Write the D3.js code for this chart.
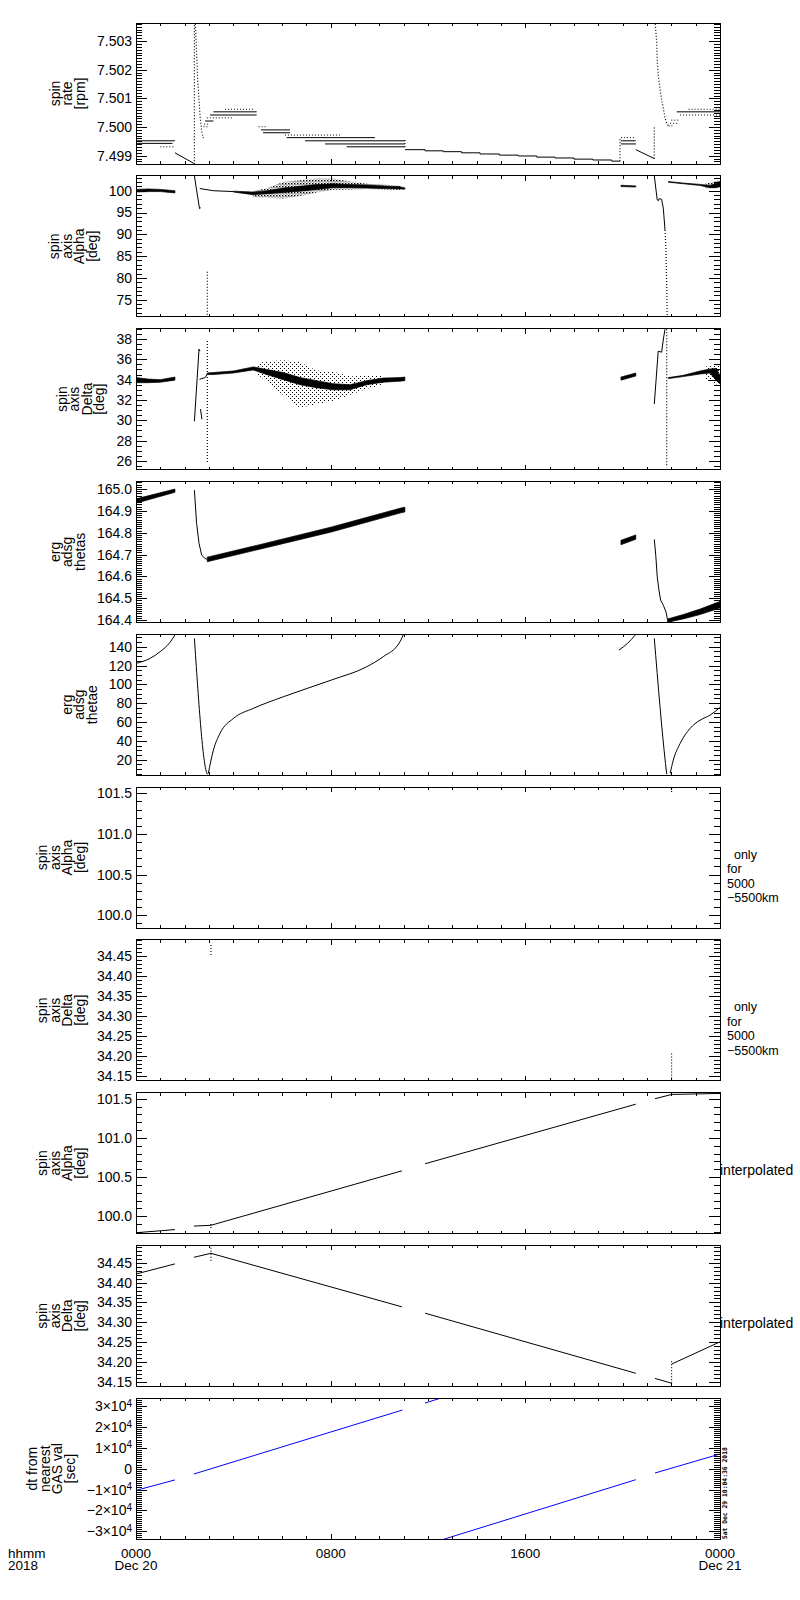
<!DOCTYPE html>
<html lang="en">
<head>
<meta charset="UTF-8">
<title>ERG spin axis summary 2018-12-20</title>
<script src="https://d3js.org/d3.v7.min.js"></script>
<style>
  body { margin: 0; background: #fff; }
  svg { display: block; }
  svg text { font-family: "Liberation Sans", Arial, sans-serif; font-size: 14px; fill: #000; }
  .axis line { stroke: #000; shape-rendering: crispEdges; }
  .frame { fill: none; stroke: #000; stroke-width: 1; shape-rendering: crispEdges; }
  .stamp { font-family: "DejaVu Sans Mono", monospace; font-size: 6.5px; font-weight: bold; }
  .xlab { font-size: 13.5px; }
  .side { font-size: 12.5px; }
</style>
</head>
<body>
<svg id="chart" width="800" height="1600"></svg>
<script>
// time axis, hours from 2018-12-20 00:00
const hourTicks = [0, 8, 16, 24];
const hourLabels = ["0000", "0800", "1600", "0000"];
const dayLabels = ["Dec 20", "", "", "Dec 21"];

// panel 1 : spin rate [rpm]
const rateDomain = [7.49871, 7.50363];
const rateTicks = [7.499, 7.500, 7.501, 7.502, 7.503];
const rateLevels = [ // [h0, h1, rpm]
  [0, 1.6, 7.49952], [0, 1.5, 7.49943],
  [2.84, 3.18, 7.50021], [3.04, 4.96, 7.50042], [3.18, 4.96, 7.50053],
  [5.14, 6.33, 7.4999], [5.22, 6.33, 7.4998], [6.19, 9.82, 7.49963],
  [6.95, 11.05, 7.49952], [7.77, 11.05, 7.49941], [8.66, 11.05, 7.49931],
  [19.93, 20.54, 7.49952], [19.93, 20.54, 7.49941], [22.22, 24, 7.50053]
];
const rateLevelsDotted = [
  [1.0, 1.6, 7.49931], [2.77, 2.95, 7.50001], [2.80, 3.0, 7.5001], [2.91, 3.99, 7.50032],
  [3.66, 4.89, 7.50062], [5.04, 5.37, 7.50001], [6.12, 8.38, 7.49972], [19.93, 20.54, 7.49963],
  [21.88, 22.05, 7.50004], [21.95, 22.3, 7.50013], [22.0, 22.3, 7.50024], [22.36, 24, 7.50042],
  [22.71, 24, 7.50062]
];
const rateLines = [
  [[1.6, 7.4991], [2.38, 7.49873]],
  [[20.54, 7.49921], [21.30, 7.4989]]
];
const rateStairs = [
  [11.05, 7.49921], [11.88, 7.49917], [12.63, 7.49914], [13.38, 7.4991], [14.14, 7.49906],
  [14.93, 7.49902], [15.71, 7.49899], [16.47, 7.49895], [17.22, 7.49892], [18.0, 7.49888],
  [18.77, 7.49885], [19.55, 7.49881], [19.89, 7.49881]
];
const rateDotted = [
  [[2.40, 7.4987], [2.40, 7.5036]],
  [[2.44, 7.5036], [2.49, 7.50258], [2.53, 7.50171], [2.59, 7.50095], [2.63, 7.50042], [2.70, 7.49984], [2.77, 7.49961]],
  [[11.05, 7.4993], [11.05, 7.4996]],
  [[19.89, 7.49881], [19.89, 7.49963]],
  [[21.30, 7.4989], [21.30, 7.5000]],
  [[21.34, 7.5036], [21.40, 7.50293], [21.42, 7.50235], [21.46, 7.50182], [21.53, 7.50136],
   [21.60, 7.50095], [21.67, 7.50066], [21.74, 7.50031], [21.81, 7.50013], [21.88, 7.50004]]
];

// panel 2 : spin axis alpha [deg]
const alphaDomain = [71.08, 103.42];
const alphaTicks = [75, 80, 85, 90, 95, 100];
const alphaBands = [ // [h, low, high]
  [[0, 99.7, 100.3], [0.5, 99.8, 100.4], [1.0, 99.8, 100.3], [1.6, 99.5, 100.0]],
  [[4.0, 99.7, 99.9], [4.8, 99.1, 99.7], [5.4, 99.3, 100.0], [6.05, 99.6, 100.6], [6.74, 99.9, 101.0],
   [7.42, 100.3, 101.4], [8.1, 100.7, 101.6], [8.79, 100.7, 101.4], [9.48, 100.6, 101.3],
   [10.85, 100.4, 100.9], [11.05, 100.35, 100.65]],
  [[19.93, 100.95, 101.25], [20.54, 100.85, 101.1]],
  [[21.88, 101.95, 102.1], [22.49, 101.6, 101.75], [23.18, 101.2, 101.45], [23.59, 100.7, 101.2],
   [23.85, 100.7, 101.7], [24, 101.1, 102.1]]
];
const alphaScatter = [
  [[4.8, 98.6, 99.9], [5.4, 98.4, 100.6], [6.05, 98.2, 102.0], [6.74, 98.8, 102.4], [7.42, 99.6, 102.8],
   [8.1, 100.2, 102.8], [8.79, 100.3, 102.1], [9.48, 100.4, 101.6], [10.85, 100.2, 101.2]],
  [[23.4, 100.5, 101.6], [24, 100.6, 102.4]]
];
const alphaLines = [
  [[2.40, 103.4], [2.61, 95.9], [2.66, 96.1]],
  [[2.62, 100.5], [3.18, 100.0], [4.0, 99.8]],
  [[21.30, 103.4], [21.42, 97.9], [21.47, 97.7], [21.5, 98.2], [21.6, 98.0], [21.67, 96.0], [21.74, 91.0]]
];
const alphaDotted = [
  [[2.93, 81.4], [2.93, 71.1]],
  [[21.74, 91.0], [21.78, 86.4], [21.81, 78], [21.83, 71.1]]
];

// panel 3 : spin axis delta [deg]
const deltaDomain = [25.15, 39.02];
const deltaTicks = [26, 28, 30, 32, 34, 36, 38];
const deltaBands = [
  [[0, 33.7, 34.2], [0.5, 33.7, 34.05], [1.0, 33.75, 34.0], [1.6, 33.95, 34.25]],
  [[2.93, 34.5, 34.65], [3.18, 34.5, 34.7], [4.0, 34.65, 34.85], [4.82, 34.95, 35.25], [5.37, 34.5, 35.0],
   [6.05, 34.0, 34.7], [6.74, 33.5, 34.2], [7.42, 33.2, 33.9], [8.1, 33.0, 33.6], [8.79, 33.0, 33.5],
   [9.48, 33.5, 33.9], [10.16, 33.75, 34.15], [10.85, 33.85, 34.2], [11.05, 33.9, 34.25]],
  [[19.93, 33.95, 34.25], [20.54, 34.35, 34.65]],
  [[21.88, 34.1, 34.2], [22.49, 34.3, 34.42], [23.18, 34.55, 34.85], [23.59, 34.65, 35.05],
   [23.85, 33.9, 35.1], [24, 33.6, 34.4]]
];
const deltaScatter = [
  [[5.0, 34.5, 35.6], [5.37, 33.8, 35.8], [6.05, 32.5, 35.9], [6.74, 31.2, 35.7], [7.42, 31.6, 34.9],
   [8.1, 31.9, 34.8], [8.79, 32.5, 34.3], [9.48, 33.1, 34.4], [10.16, 33.5, 34.4]],
  [[23.4, 34.0, 35.3], [24, 33.4, 35.4]]
];
const deltaLines = [
  [[2.40, 29.9], [2.59, 37.0], [2.63, 36.8]],
  [[2.65, 31.1], [2.71, 30.1]],
  [[2.61, 34.03], [2.84, 34.2], [2.93, 34.55]],
  [[21.30, 31.6], [21.46, 36.8], [21.6, 36.7], [21.68, 38.1], [21.74, 38.95]]
];
const deltaDotted = [
  [[2.93, 37.8], [2.93, 25.8]],
  [[21.81, 38.95], [21.81, 25.35]]
];

// panel 4 : erg adsg thetas
const thetasDomain = [164.389, 165.035];
const thetasTicks = [164.4, 164.5, 164.6, 164.7, 164.8, 164.9, 165.0];
const thetasBands = [
  [[0, 164.935, 164.955], [1.6, 164.985, 165.0]],
  [[2.93, 164.667, 164.688], [5.0, 164.722, 164.743], [8.03, 164.803, 164.826], [10.85, 164.89, 164.912], [11.05, 164.895, 164.917]],
  [[19.93, 164.745, 164.765], [20.54, 164.77, 164.79]],
  [[21.85, 164.39, 164.405], [22.49, 164.405, 164.425], [23.18, 164.425, 164.45], [24, 164.455, 164.485]]
];
const thetasLines = [
  [[2.40, 164.995], [2.49, 164.843], [2.59, 164.751], [2.70, 164.697], [2.84, 164.682], [2.93, 164.678]],
  [[21.30, 164.769], [21.36, 164.697], [21.42, 164.598], [21.49, 164.537], [21.56, 164.491],
   [21.67, 164.468], [21.78, 164.437], [21.85, 164.399]]
];

// panel 5 : erg adsg thetae
const thetaeDomain = [3.54, 153.27];
const thetaeTicks = [20, 40, 60, 80, 100, 120, 140];
const thetaeLines = [
  [[0, 122.3], [0.58, 127.6], [0.99, 134.7], [1.4, 144.7], [1.6, 152.5]],
  [[2.40, 148.9], [2.90, 6.5], [2.93, 4.5]],
  [[2.97, 5.3], [3.18, 30.1], [3.45, 47.9], [4.0, 63.8], [4.82, 74.5], [6.05, 86.8], [8.03, 104.6],
   [9.48, 118.7], [10.16, 129.4], [10.85, 145.3], [11.0, 153.5]],
  [[19.85, 136.5], [20.2, 143.5], [20.52, 152.5]],
  [[21.30, 148.9], [21.76, 16], [21.81, 4.6]],
  [[21.95, 5.3], [22.08, 19.5], [22.36, 37.2], [22.77, 53.2], [23.18, 62], [23.59, 67.3], [24, 75.5]]
];

// panel 6/7 : only for 5000-5500 km
const alphaOnlyDomain = [99.844, 101.577];
const alphaOnlyTicks = [100.0, 100.5, 101.0, 101.5];
const alphaOnlyDotted = [[[22.01, 101.516], [22.01, 101.565]]];
const deltaOnlyDomain = [34.139, 34.491];
const deltaOnlyTicks = [34.15, 34.20, 34.25, 34.30, 34.35, 34.40, 34.45];
const deltaOnlyDotted = [
  [[3.08, 34.453], [3.08, 34.4825]],
  [[22.01, 34.145], [22.01, 34.2075]]
];

// panel 8/9 : interpolated
const alphaInterpDomain = [99.779, 101.578];
const alphaInterpLines = [
  [[0, 99.79], [1.6, 99.83]],
  [[2.38, 99.875], [3.08, 99.885], [10.93, 100.58]],
  [[11.88, 100.67], [20.54, 101.43]],
  [[21.33, 101.5], [22.03, 101.555], [24, 101.567]]
];
const alphaInterpDotted = [[[3.08, 99.85], [3.08, 99.9]], [[22.01, 101.54], [22.01, 101.575]]];
const deltaInterpDomain = [34.139, 34.4935];
const deltaInterpLines = [
  [[0, 34.4216], [1.6, 34.447]],
  [[2.38, 34.4636], [3.08, 34.4736], [10.93, 34.339]],
  [[11.88, 34.323], [20.54, 34.172]],
  [[21.33, 34.159], [22.01, 34.147]],
  [[22.01, 34.195], [24, 34.251]]
];
const deltaInterpDotted = [[[3.08, 34.455], [3.08, 34.49]], [[22.01, 34.147], [22.01, 34.205]]];

// panel 10 : dt from nearest GAS value [sec]
const dtDomain = [-33850, 33850];
const dtTicks = [-30000, -20000, -10000, 0, 10000, 20000, 30000];
const dtLines = [
  [[0, -10400], [1.6, -5400]],
  [[2.38, -2540], [10.95, 28180]],
  [[11.88, 31540], [12.53, 33900]],
  [[12.64, -33900], [20.54, -5280]],
  [[21.33, -2060], [24, 7060]]
];

const onlyText = ["\u00a0\u00a0only", "for", "5000", "\u22125500km"];
const interpText = ["interpolated"];
const stampText = "Sat Dec 29 10:04:36 2018";

const panels = [
  { title: ["spin", "rate", "[rpm]"], domain: rateDomain, ticks: rateTicks, minor: 0.0001, fmt: d3.format(".3f"),
    levels: rateLevels, dottedLevels: rateLevelsDotted, lines: rateLines, stairs: [rateStairs], dotted: rateDotted },
  { title: ["spin", "axis", "Alpha", "[deg]"], domain: alphaDomain, ticks: alphaTicks, minor: 1, fmt: d3.format("d"),
    bands: alphaBands, scatter: alphaScatter, speck: "speckDense", lines: alphaLines, dotted: alphaDotted },
  { title: ["spin", "axis", "Delta", "[deg]"], domain: deltaDomain, ticks: deltaTicks, minor: 0.5, fmt: d3.format("d"),
    bands: deltaBands, scatter: deltaScatter, speck: "speck", lines: deltaLines, dotted: deltaDotted },
  { title: ["erg", "adsg", "thetas"], domain: thetasDomain, ticks: thetasTicks, minor: 0.01, fmt: d3.format(".1f"),
    bands: thetasBands, lines: thetasLines },
  { title: ["erg", "adsg", "thetae"], domain: thetaeDomain, ticks: thetaeTicks, minor: 5, fmt: d3.format("d"),
    lines: thetaeLines, smooth: true },
  { title: ["spin", "axis", "Alpha", "[deg]"], domain: alphaOnlyDomain, ticks: alphaOnlyTicks, minor: 0.1, fmt: d3.format(".1f"),
    dotted: alphaOnlyDotted, side: onlyText },
  { title: ["spin", "axis", "Delta", "[deg]"], domain: deltaOnlyDomain, ticks: deltaOnlyTicks, minor: 0.01, fmt: d3.format(".2f"),
    dotted: deltaOnlyDotted, side: onlyText },
  { title: ["spin", "axis", "Alpha", "[deg]"], domain: alphaInterpDomain, ticks: alphaOnlyTicks, minor: 0.1, fmt: d3.format(".1f"),
    lines: alphaInterpLines, dotted: alphaInterpDotted, side: interpText },
  { title: ["spin", "axis", "Delta", "[deg]"], domain: deltaInterpDomain, ticks: deltaOnlyTicks, minor: 0.01, fmt: d3.format(".2f"),
    lines: deltaInterpLines, dotted: deltaInterpDotted, side: interpText },
  { title: ["dt from", "nearest", "GAS val", "[sec]"], domain: dtDomain, ticks: dtTicks, minor: 1000, fmt: null,
    lines: dtLines, color: "#0000ff" }
];

const plotLeft = 136, plotRight = 720;
const panelTop0 = 23, panelPitch = 152.8, panelH = 141;

const svg = d3.select("#chart");
const defs = svg.append("defs");
// sparse and dense dot fills for the scattered point clouds
const speck = defs.append("pattern").attr("id", "speck")
  .attr("width", 4).attr("height", 4).attr("patternUnits", "userSpaceOnUse");
speck.append("rect").attr("x", 0).attr("y", 0).attr("width", 1).attr("height", 1).attr("fill", "#000");
speck.append("rect").attr("x", 2).attr("y", 2).attr("width", 1).attr("height", 1).attr("fill", "#000");
const dense = defs.append("pattern").attr("id", "speckDense")
  .attr("width", 3).attr("height", 3).attr("patternUnits", "userSpaceOnUse");
dense.append("rect").attr("x", 0).attr("y", 0).attr("width", 1.4).attr("height", 1.4).attr("fill", "#000");
dense.append("rect").attr("x", 1.5).attr("y", 1.5).attr("width", 1).attr("height", 1).attr("fill", "#000");

const x = d3.scaleLinear().domain([0, 24]).range([plotLeft, plotRight]);
const hourMinor = d3.range(0, 25);

function stepValues(d, step) {
  return d3.range(Math.ceil(d[0] / step - 1e-6), Math.floor(d[1] / step + 1e-6) + 1)
    .map(k => +(k * step).toFixed(8));
}

// one <text> with a tspan per line
function multiline(parent, x0, y0, lines, gap, cls, anchor) {
  const t = parent.append("text").attr("class", cls || null).attr("text-anchor", anchor || "start");
  lines.forEach((s, k) => t.append("tspan").attr("x", x0).attr("y", y0 + k * gap).text(s));
  return t;
}

panels.forEach((p, i) => {
  const top = panelTop0 + i * panelPitch, bottom = top + panelH;
  const cy = (top + bottom) / 2;
  const y = d3.scaleLinear().domain(p.domain).range([bottom, top]);
  const color = p.color || "#000";
  const g = svg.append("g");

  defs.append("clipPath").attr("id", "clip" + i)
    .append("rect").attr("x", plotLeft).attr("y", top)
    .attr("width", plotRight - plotLeft).attr("height", panelH);
  const plot = g.append("g").attr("clip-path", `url(#clip${i})`);

  const line = d3.line().x(d => x(d[0])).y(d => y(d[1]));
  const curve = d3.line().x(d => x(d[0])).y(d => y(d[1]))
    .curve(p.smooth ? d3.curveMonotoneX : d3.curveLinear);
  const stairs = d3.line().x(d => x(d[0])).y(d => y(d[1])).curve(d3.curveStepAfter);
  const area = d3.area().x(d => x(d[0])).y0(d => y(d[1])).y1(d => y(d[2]));

  (p.scatter || []).forEach(s => plot.append("path").attr("d", area(s)).attr("fill", `url(#${p.speck})`));
  (p.bands || []).forEach(b => plot.append("path").attr("d", area(b))
    .attr("fill", color).attr("stroke", color).attr("stroke-width", 0.7));
  (p.lines || []).forEach(l => plot.append("path").attr("d", curve(l))
    .attr("fill", "none").attr("stroke", color).attr("stroke-width", 1));
  (p.stairs || []).forEach(l => plot.append("path").attr("d", stairs(l))
    .attr("fill", "none").attr("stroke", color).attr("stroke-width", 1));
  (p.dotted || []).forEach(l => plot.append("path").attr("d", line(l))
    .attr("fill", "none").attr("stroke", color).attr("stroke-width", 1.2).attr("stroke-dasharray", "1,2"));
  (p.levels || []).forEach(l => plot.append("line")
    .attr("x1", x(l[0])).attr("x2", x(l[1])).attr("y1", y(l[2])).attr("y2", y(l[2]))
    .attr("stroke", color).attr("stroke-width", 1));
  (p.dottedLevels || []).forEach(l => plot.append("line")
    .attr("x1", x(l[0])).attr("x2", x(l[1])).attr("y1", y(l[2])).attr("y2", y(l[2]))
    .attr("stroke", color).attr("stroke-width", 1).attr("stroke-dasharray", "1,2"));

  const clean = a => a.select(".domain").remove();
  const minorY = stepValues(p.domain, p.minor);

  // y axes, ticks pointing inward on both sides
  g.append("g").attr("class", "axis").attr("transform", `translate(${plotLeft},0)`)
    .call(d3.axisLeft(y).tickValues(minorY).tickSize(-6).tickFormat("")).call(clean);
  const lab = g.append("g").attr("class", "axis").attr("transform", `translate(${plotLeft},0)`)
    .call(d3.axisLeft(y).tickValues(p.ticks).tickSize(-11).tickPadding(4)
      .tickFormat(p.fmt || (() => ""))).call(clean);
  g.append("g").attr("class", "axis").attr("transform", `translate(${plotRight},0)`)
    .call(d3.axisRight(y).tickValues(minorY).tickSize(-6).tickFormat("")).call(clean);
  g.append("g").attr("class", "axis").attr("transform", `translate(${plotRight},0)`)
    .call(d3.axisRight(y).tickValues(p.ticks).tickSize(-11).tickFormat("")).call(clean);

  if (!p.fmt) {
    // 3x10^4 style labels
    lab.selectAll(".tick text").each(function (v) {
      const t = d3.select(this).text("");
      if (v === 0) { t.text("0"); return; }
      t.append("tspan").text(`${v < 0 ? "\u2212" : ""}${Math.abs(v) / 1e4}\u00d710`);
      t.append("tspan").attr("dy", "-0.45em").style("font-size", "10px").text("4");
    });
  }

  // time axes top and bottom
  g.append("g").attr("class", "axis").attr("transform", `translate(0,${bottom})`)
    .call(d3.axisBottom(x).tickValues(hourMinor).tickSize(-3).tickFormat("")).call(clean);
  g.append("g").attr("class", "axis").attr("transform", `translate(0,${bottom})`)
    .call(d3.axisBottom(x).tickValues(hourTicks).tickSize(-5).tickFormat("")).call(clean);
  g.append("g").attr("class", "axis").attr("transform", `translate(0,${top})`)
    .call(d3.axisTop(x).tickValues(hourMinor).tickSize(-3).tickFormat("")).call(clean);
  g.append("g").attr("class", "axis").attr("transform", `translate(0,${top})`)
    .call(d3.axisTop(x).tickValues(hourTicks).tickSize(-5).tickFormat("")).call(clean);

  g.append("rect").attr("class", "frame")
    .attr("x", plotLeft).attr("y", top).attr("width", plotRight - plotLeft).attr("height", panelH);

  // rotated multi-line title, placed left of the widest tick label
  const labLeft = plotLeft + lab.node().getBBox().x;
  const n = p.title.length;
  p.title.forEach((s, k) => {
    const bx = labLeft - 12 - (n - 1 - k) * 12.5;
    g.append("text").attr("transform", `translate(${bx},${cy}) rotate(-90)`)
      .attr("text-anchor", "middle").text(s);
  });

  if (p.side) {
    const many = p.side.length > 1;
    multiline(g, many ? 727 : 720, cy + (many ? 1 : 12), p.side, 14.5, many ? "side" : null);
  }

  if (i === panels.length - 1) {
    hourTicks.forEach((h, k) => {
      const lines = dayLabels[k] ? [hourLabels[k], dayLabels[k]] : [hourLabels[k]];
      multiline(svg, x(h), bottom + 19, lines, 12, "xlab", "middle");
    });
    multiline(svg, 8, bottom + 19, ["hhmm", "2018"], 12, "xlab");
    svg.append("text").attr("class", "stamp")
      .attr("transform", `translate(726.5,${bottom}) rotate(-90)`)
      .attr("textLength", 92).attr("lengthAdjust", "spacingAndGlyphs").text(stampText);
  }
});
</script>
</body>
</html>
